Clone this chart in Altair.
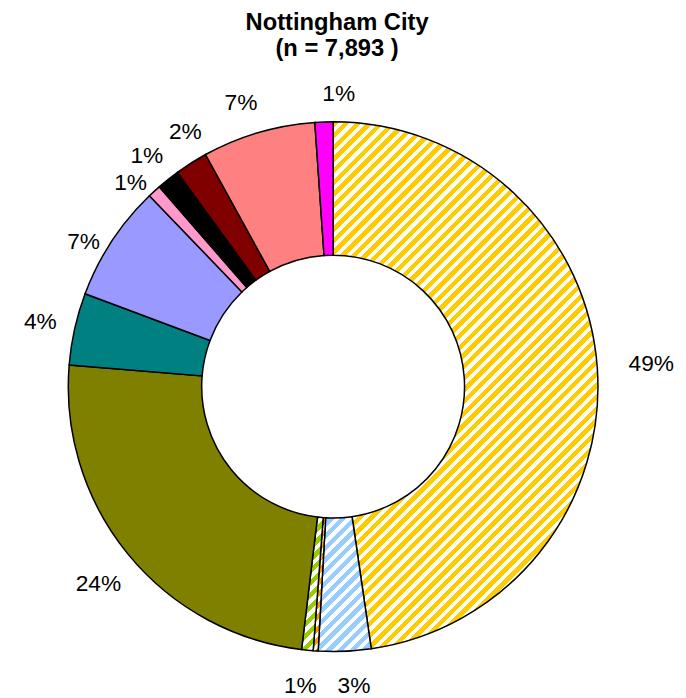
import math
import altair as alt
import pandas as pd

# ---- data (clockwise from 12 o'clock) ----
segments = ["Segment 1", "Segment 2", "Segment 3", "Segment 4", "Segment 5", "Segment 6",
            "Segment 7", "Segment 8", "Segment 9", "Segment 10", "Segment 11", "Segment 12"]
values = [47.7, 3.2, 0.3, 0.7, 24.4, 4.4, 7.1, 0.8, 1.4, 2.0, 6.9, 1.1]
labels = ["49%", "3%", "", "1%", "24%", "4%", "7%", "1%", "1%", "2%", "7%", "1%"]
title_lines = ["Nottingham City", "(n = 7,893 )"]

# ---- styles ----
colors = ["#FFCC00", "#99CCFF", "#FF9900", "#99CC00", "#808000", "#008080",
          "#9999FF", "#FF99CC", "#000000", "#800000", "#FF8080", "#FF00FF"]
hatched = [True, True, True, True, False, False, False, False, False, False, False, False]

FONT = "Liberation Sans"
LABEL_SIZE = 23
R_OUT, R_IN = 268, 133
CX, CY = 329, 319          # donut centre inside the view
PAD_TOP = 60
LABEL_GAP = 287            # distance from centre to nearest edge of a label box

total = sum(values)


def sector_bbox(a0, a1, r0, r1):
    pts = []
    for a in (a0, a1):
        for r in (r0, r1):
            pts.append((r * math.sin(a), -r * math.cos(a)))
    k = math.ceil(a0 / (math.pi / 2))
    while k * math.pi / 2 < a1:
        a = k * math.pi / 2
        pts.append((r1 * math.sin(a), -r1 * math.cos(a)))
        k += 1
    xs = [p[0] for p in pts]
    ys = [p[1] for p in pts]
    return max(xs) - min(xs), max(ys) - min(ys)


def hatch(color, w, h, period=8.3, frac=0.55):
    n = max(1, round((w + h) / (period * math.sqrt(2))))
    stops = []
    for k in range(n):
        s0, s1, s2 = k / n, (k + frac) / n, (k + 1) / n
        stops += [{"offset": s0, "color": color}, {"offset": s1, "color": color},
                  {"offset": s1, "color": "#ffffff"}, {"offset": s2, "color": "#ffffff"}]
    d = w * w + h * h
    return {"gradient": "linear", "x1": 0, "y1": 0,
            "x2": w * (w + h) / d, "y2": h * (w + h) / d, "stops": stops}


rows = []
cum = 0.0
conditions = []
for i, (s, v, lab) in enumerate(zip(segments, values, labels)):
    a0 = cum / total * 2 * math.pi
    a1 = (cum + v) / total * 2 * math.pi
    mid = (a0 + a1) / 2
    hw = 0.5 * LABEL_SIZE * (0.556 * max(len(lab) - 1, 0) + 0.889)
    hh = 11
    lr = LABEL_GAP + hw * abs(math.sin(mid)) + hh * abs(math.cos(mid))
    rows.append({"seg": s, "idx": i, "value": v, "label": lab, "lr": lr})
    if hatched[i]:
        w, h = sector_bbox(a0, a1, R_IN, R_OUT)
        conditions.append({"test": f"datum.seg == '{s}'", "value": hatch(colors[i], w, h)})
    cum += v

df = pd.DataFrame(rows)

theta_scale = alt.Scale(domain=[0, total], range=[0, 2 * math.pi])

base = alt.Chart(df).transform_stack(
    stack="value", as_=["v0", "v1"], groupby=[], sort=[alt.SortField("idx", order="ascending")]
).transform_calculate(mid="(datum.v0 + datum.v1) / 2")

arcs = base.mark_arc(innerRadius=R_IN, outerRadius=R_OUT, stroke="black", strokeWidth=1.5).encode(
    theta=alt.Theta("v0:Q", scale=theta_scale),
    theta2="v1:Q",
    fill=alt.Fill("seg:N", scale=alt.Scale(domain=segments, range=colors), legend=None,
                  condition=conditions),
    x=alt.value(CX), y=alt.value(CY),
)

# small nudges where the original spreadsheet moved a label off its mid-angle
nudges = {0: (12, 0), 1: (8, 5), 3: (-4, 5), 4: (4, 3), 5: (2, 1), 6: (4, 22), 7: (2, 20),
          8: (2, 6), 9: (14, 0), 10: (-8, 3), 11: (16, 2)}


def label_layer(filter_expr, dx=0, dy=0):
    return base.transform_filter(filter_expr).mark_text(
        font=FONT, fontSize=LABEL_SIZE, color="black", align="center", baseline="middle",
        dx=dx, dy=dy
    ).encode(
        theta=alt.Theta("mid:Q", scale=theta_scale),
        radius=alt.Radius("lr:Q", scale=None),
        text="label:N",
        x=alt.value(CX), y=alt.value(CY),
    )


plain = " && ".join(f"datum.idx != {k}" for k in nudges)
layers = [arcs, label_layer(plain)]
for k, (dx, dy) in nudges.items():
    layers.append(label_layer(f"datum.idx == {k}", dx, dy))

chart = alt.layer(*layers).properties(
    width=658, height=630,
    title=alt.Title(title_lines, font=FONT, fontSize=24, fontWeight="bold", anchor="middle",
                    lineHeight=26, offset=11, dx=4, color="black"),
    autosize=alt.AutoSizeParams(type="none"),
    padding={"left": 0, "top": PAD_TOP, "right": 20, "bottom": 0},
).configure_view(stroke=None)

chart.save("out.html", embed_options={"renderer": "svg", "actions": False})
